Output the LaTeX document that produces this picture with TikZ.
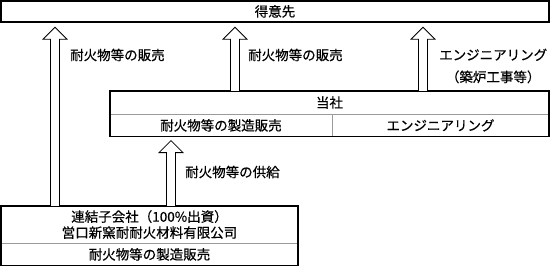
\documentclass[tikz,border=0pt]{standalone}
\usepackage{fontspec}
\setmainfont{Noto Sans CJK JP}[FakeBold=0.5]
\usepackage{tikz}
\usetikzlibrary{calc,positioning}
\definecolor{rulegray}{HTML}{9A9A9A}

% hollow block arrow from a base point up to its tip
\newcommand{\hollowup}[2]{%
  \draw[hollow] ($(#1)+(-4.5,0)$) -- ($(#2)+(-4.5,12)$) -- ($(#2)+(-12,12)$) -- (#2)
    -- ($(#2)+(12,12)$) -- ($(#2)+(4.5,12)$) -- ($(#1)+(4.5,0)$);}

\begin{document}
\begin{tikzpicture}[
  x=1pt,y=-1pt,
  every node/.style={font=\fontsize{13.5}{16}\selectfont},
  cell/.style={inner sep=0pt,minimum height=22,align=center},
  frame/.style={line width=1.6pt,draw=black},
  divider/.style={line width=0.9pt,draw=rulegray},
  hollow/.style={line width=0.8pt,draw=black,fill=white},
  lbl/.style={inner sep=0pt,anchor=west,align=center}
]
\useasboundingbox (0,0) rectangle (551,267);

% customers
\node[cell,minimum width=548,minimum height=21] (client) at (275,11.5) {得意先};
\draw[frame] (client.north west) rectangle (client.south east);

% the company
\node[cell,minimum width=439,minimum height=23] (tosha) at (329.5,102.5) {当社};
\node[cell,minimum width=222,anchor=north west] (mfg) at (tosha.south west) {耐火物等の製造販売};
\node[cell,minimum width=217,anchor=north east] (eng) at (tosha.south east) {エンジニアリング};
\draw[divider] (mfg.north west) -- (eng.north east);
\draw[divider] (mfg.north east) -- (mfg.south east);
\draw[frame] (tosha.north west) rectangle (eng.south east);

% subsidiary
\node[cell,minimum width=297,minimum height=37] (sub) at (149.5,224.5) {連結子会社（100\%出資）\\営口新窯耐耐火材料有限公司};
\node[cell,minimum width=297,anchor=north] (subbiz) at (sub.south) {耐火物等の製造販売};
\draw[divider] (sub.south west) -- (sub.south east);
\draw[frame] (sub.north west) rectangle (subbiz.south east);

% arrows
\coordinate (a1) at (55,0);
\coordinate (a2) at (235,0);
\coordinate (a3) at (423,0);
\coordinate (a4) at (171,0);
\coordinate (a1b) at (a1 |- sub.north);
\coordinate (a1t) at ($(a1 |- client.south)+(0,5)$);
\coordinate (a2b) at (a2 |- tosha.north);
\coordinate (a2t) at ($(a2 |- client.south)+(0,5)$);
\coordinate (a3b) at (a3 |- tosha.north);
\coordinate (a3t) at ($(a3 |- client.south)+(0,5)$);
\coordinate (a4b) at (a4 |- sub.north);
\coordinate (a4t) at ($(a4 |- mfg.south)+(0,4)$);
\hollowup{a1b}{a1t}
\hollowup{a2b}{a2t}
\hollowup{a3b}{a3t}
\hollowup{a4b}{a4t}

% labels
\node[lbl] (l1) at (70,55) {耐火物等の販売};
\node[lbl] (l2) at (248,55) {耐火物等の販売};
\node[lbl] (l3) at (439,66) {エンジニアリング\\[6pt]（築炉工事等）};
\node[lbl] (l4) at (185,172) {耐火物等の供給};
\end{tikzpicture}
\end{document}
